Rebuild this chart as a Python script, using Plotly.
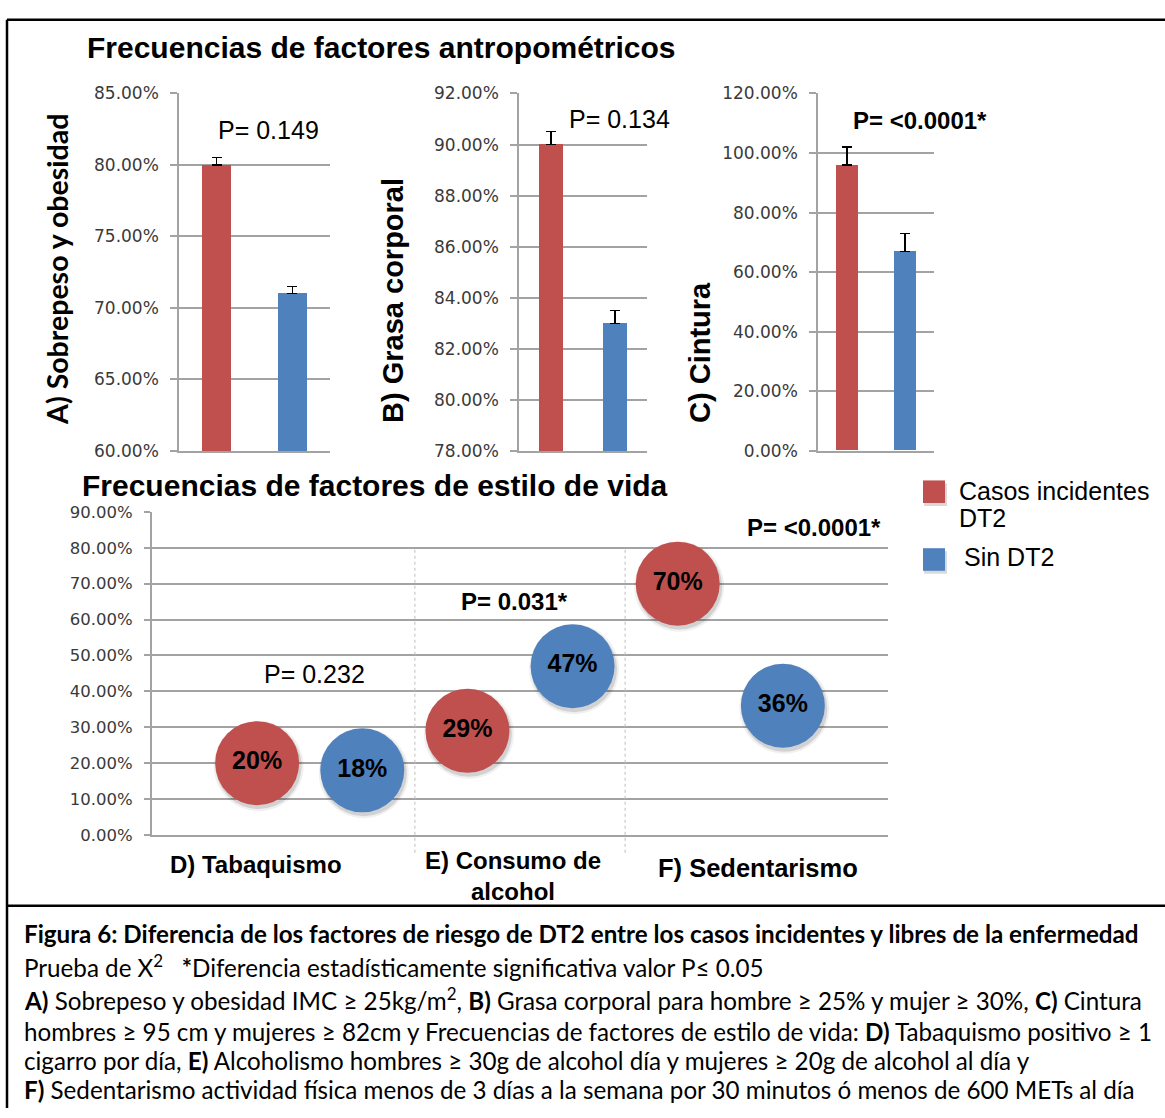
import plotly.graph_objects as go

W, H = 1165, 1118

RED = "#C0504D"
BLUE = "#4F81BD"
GRID = "#A3A3A3"
TICK_TXT = "#3A3A3A"
ARIAL = "Liberation Sans, Arial, sans-serif"
TICKFONT = "DejaVu Sans, Verdana, sans-serif"
CALIBRI = "Lato, Open Sans, sans-serif"

# ---- anthropometric factors (bar panels A, B, C) ----
grupos = ["Casos incidentes DT2", "Sin DT2"]
sobrepeso = [0.80, 0.71]
sobrepeso_err = [0.005, 0.005]
grasa = [0.90, 0.83]
grasa_err = [0.005, 0.005]
cintura = [0.96, 0.67]
cintura_err = [0.06, 0.06]

# ---- lifestyle factors (bubble panel D, E, F) ----
estilo_cats = ["D) Tabaquismo", "E) Consumo de<br>alcohol", "F) Sedentarismo"]
estilo_casos = [0.20, 0.29, 0.70]
estilo_sin = [0.18, 0.47, 0.36]
pos_casos = [1, 2, 3]
pos_sin = [1.5, 2.5, 3.5]
separadores = [1.75, 2.75]

p_labels = ["P= 0.149", "P= 0.134", "<b>P= <0.0001*</b>",
            "P= 0.232", "<b>P= 0.031*</b>", "<b>P= <0.0001*</b>"]


def px(x):
    return x / W


def py(y):
    return 1 - y / H


fig = go.Figure()

# bar panels: (axis suffix, values, errors, x pixel span, y range, dtick)
panels = [
    ("", sobrepeso, sobrepeso_err, (179, 330), [0.60, 0.85], 0.05),
    ("2", grasa, grasa_err, (519, 647), [0.78, 0.92], 0.02),
    ("3", cintura, cintura_err, (818, 934), [0.0, 1.20], 0.20),
]

layout_axes = {}
for suf, vals, errs, (x0, x1), rng, dt in panels:
    fig.add_trace(go.Bar(
        x=[0, 1], y=vals, width=0.38,
        marker=dict(color=[RED, BLUE], line=dict(width=0)),
        error_y=dict(type="data", array=errs, arrayminus=[0, 0], symmetric=False,
                     color="black", thickness=1.3, width=5),
        xaxis="x" + suf, yaxis="y" + suf, showlegend=False,
        hovertext=grupos,
    ))
    layout_axes["xaxis" + suf] = dict(
        domain=[px(x0), px(x1)], range=[-0.5, 1.5], anchor="y" + suf,
        showgrid=False, zeroline=False, showline=True, linecolor=GRID,
        linewidth=1.5, showticklabels=False, ticks="")
    layout_axes["yaxis" + suf] = dict(
        domain=[py(449), py(85)], anchor="x" + suf, range=rng,
        tick0=rng[0], dtick=dt, tickformat=".2%",
        showgrid=True, gridcolor=GRID, gridwidth=1.5, zeroline=False,
        showline=True, linecolor=GRID, linewidth=1.5,
        ticks="outside", ticklen=7, tickcolor=GRID, tickwidth=1.5,
        ticklabelstandoff=8,
        tickfont=dict(family=TICKFONT, size=17, color=TICK_TXT))

# bubble panel shadows (offset by a few pixels down/right)
dy = 3 * 0.9 / (840 - 511)
dx = 1.5 * 3.5 / (888 - 152)
for size, alpha in [(90, 0.06), (86, 0.12)]:
    fig.add_trace(go.Scatter(
        x=[p + dx for p in pos_casos + pos_sin],
        y=[v - dy for v in estilo_casos + estilo_sin],
        mode="markers",
        marker=dict(size=size, color=f"rgba(0,0,0,{alpha})", line=dict(width=0)),
        xaxis="x4", yaxis="y4", showlegend=False, hoverinfo="skip"))

for pos, vals, col, name in [(pos_casos, estilo_casos, RED, grupos[0]),
                             (pos_sin, estilo_sin, BLUE, grupos[1])]:
    fig.add_trace(go.Scatter(
        x=pos, y=vals, mode="markers+text", name=name,
        marker=dict(size=84, color=col, line=dict(width=0)),
        text=[f"<b>{round(v * 100)}%</b>" for v in vals],
        textposition="middle center",
        textfont=dict(family=ARIAL, size=25, color="black"),
        xaxis="x4", yaxis="y4", showlegend=False))

layout_axes["xaxis4"] = dict(
    domain=[px(152), px(888)], range=[0.5, 4.0], anchor="y4",
    showgrid=False, zeroline=False, showline=True, linecolor=GRID,
    linewidth=2, showticklabels=False, ticks="")
layout_axes["yaxis4"] = dict(
    domain=[py(840), py(511)], anchor="x4", range=[0, 0.9],
    tick0=0, dtick=0.1, tickformat=".2%",
    showgrid=True, gridcolor=GRID, gridwidth=2, zeroline=False,
    showline=True, linecolor=GRID, linewidth=2,
    ticks="outside", ticklen=6, tickcolor=GRID, tickwidth=2,
    ticklabelstandoff=8,
    tickfont=dict(family=TICKFONT, size=16.5, color=TICK_TXT))

shapes = []
# outer frame and caption separator
for (x0, y0, x1, y1) in [(7, 10, 1165, 10), (7, 10, 7, 1118), (7, 912, 1165, 912)]:
    shapes.append(dict(type="line", xref="paper", yref="paper",
                       x0=px(x0), y0=py(y0), x1=px(x1), y1=py(y1),
                       line=dict(color="black", width=2.5)))
# dotted category separators
for s in separadores:
    shapes.append(dict(type="line", xref="x4", yref="paper", x0=s, x1=s,
                       y0=py(858), y1=py(548),
                       line=dict(color="#C8C8C8", width=1.2, dash="dot")))
# legend swatches with soft shadow
for (y0, col) in [(479, RED), (548, BLUE)]:
    shapes.append(dict(type="rect", xref="paper", yref="paper",
                       x0=px(924), x1=px(947), y0=py(y0 + 26), y1=py(y0 + 3),
                       fillcolor="rgba(0,0,0,0.15)", line=dict(width=0)))
    shapes.append(dict(type="rect", xref="paper", yref="paper",
                       x0=px(923), x1=px(945), y0=py(y0 + 23), y1=py(y0),
                       fillcolor=col, line=dict(width=0)))

ann = []


def text(x, y, s, size, family=ARIAL, xanchor="center", yanchor="middle",
         angle=0, color="black"):
    ann.append(dict(xref="paper", yref="paper", x=px(x), y=py(y), text=s,
                    showarrow=False, xanchor=xanchor, yanchor=yanchor,
                    textangle=angle, align="center" if xanchor == "center" else "left",
                    font=dict(family=family, size=size, color=color)))


# titles
text(85, 38, "<b>Frecuencias de factores antropométricos</b>", 30, xanchor="left")
text(80, 484, "<b>Frecuencias de factores de estilo de vida</b>", 30, xanchor="left")

# panel axis titles (rotated)
text(57, 425, "<b>A) Sobrepeso y obesidad</b>", 28.5, family=CALIBRI, yanchor="bottom", angle=-90)
text(393, 423, "<b>B) Grasa corporal</b>", 29, yanchor="bottom", angle=-90)
text(700, 423, "<b>C) Cintura</b>", 29, yanchor="bottom", angle=-90)

# p values
for (x, y), s, size in zip([(268, 122), (619, 111), (920, 113),
                            (314, 676), (514, 602), (814, 527)],
                           p_labels, [25, 25, 24, 25, 24, 24]):
    text(x, y, s, size)

# lifestyle category labels
for (x, y), s, size in zip([(256, 870), (513, 882), (758, 874)], estilo_cats, [24, 24, 25.5]):
    text(x, y, f"<b>{s}</b>", size)

# legend labels
text(957, 490, "Casos incidentes", 25, xanchor="left")
text(957, 517, "DT2", 25, xanchor="left")
text(962, 557, "Sin DT2", 25, xanchor="left")

# caption
caption = [
    "<b>Figura 6: Diferencia de los factores de riesgo de DT2 entre los casos incidentes y libres de la enfermedad</b>",
    "Prueba de X<sup>2</sup>   <b>*</b>Diferencia estadísticamente significativa valor P≤ 0.05",
    "<b>A)</b> Sobrepeso y obesidad IMC ≥ 25kg/m<sup>2</sup>, <b>B)</b> Grasa corporal para hombre ≥ 25% y mujer ≥ 30%, <b>C)</b> Cintura",
    "hombres ≥ 95 cm y mujeres ≥ 82cm y Frecuencias de factores de estilo de vida: <b>D)</b> Tabaquismo positivo ≥ 1",
    "cigarro por día, <b>E)</b> Alcoholismo hombres ≥ 30g de alcohol día y mujeres ≥ 20g de alcohol al día y",
    "<b>F)</b> Sedentarismo actividad física menos de 3 días a la semana por 30 minutos ó menos de 600 METs al día",
]
for y, line in zip([940, 973, 1007, 1040, 1070, 1099], caption):
    text(22, y, line, 24.2, family=CALIBRI, xanchor="left")

fig.update_layout(
    width=W, height=H, autosize=False,
    margin=dict(l=0, r=0, t=0, b=0),
    paper_bgcolor="white", plot_bgcolor="white",
    showlegend=False, bargap=0,
    shapes=shapes, annotations=ann,
    **layout_axes,
)

fig.write_html("out.html")
